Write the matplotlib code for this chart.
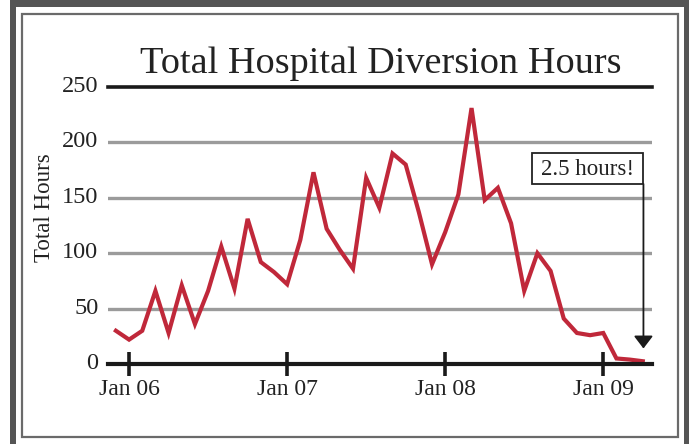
import numpy as np
import matplotlib
matplotlib.use("Agg")
import matplotlib.pyplot as plt
import matplotlib.transforms as mtransforms
from matplotlib.patches import Rectangle

plt.rcParams["font.family"] = ["Liberation Serif", "DejaVu Serif"]

# monthly totals, Dec 2005 .. Apr 2009
hours = [30, 22, 30, 66, 28, 71, 36, 66, 106, 68, 131, 92, 83,
         72, 112, 173, 122, 103, 86, 168, 141, 190, 180, 137, 90,
         119, 153, 231, 148, 159, 127, 66, 100, 84, 41, 28, 26,
         28, 5, 4, 2.5]
months = np.arange(-1, len(hours) - 1)   # 0 = Jan 2006
year_ticks = [0, 12, 24, 36]
year_labels = ["Jan 06", "Jan 07", "Jan 08", "Jan 09"]
y_ticks = [0, 50, 100, 150, 200, 250]

W, H = 694, 444
fig = plt.figure(figsize=(W / 100, H / 100), dpi=100)


def px_rect(x0, y0, x1, y1, **kw):
    # pixel coords, origin top-left
    fig.add_artist(Rectangle((x0 / W, 1 - y1 / H), (x1 - x0) / W, (y1 - y0) / H,
                             transform=fig.transFigure, **kw))


# frame
dark = "#555555"
px_rect(10, 0, 16, H, facecolor=dark, edgecolor="none")
px_rect(10, 0, 689, 7, facecolor=dark, edgecolor="none")
px_rect(684, 0, 689, H, facecolor=dark, edgecolor="none")
px_rect(22, 14, 678, 437, facecolor="none", edgecolor="#6a6a6a", linewidth=1.6)

ax = fig.add_axes([108 / W, (H - 364) / H, 544 / W, 277 / H])
ax.set_xlim(-1.6, 39.7)
ax.set_ylim(0, 250)
for s in ax.spines.values():
    s.set_visible(False)

for v in [50, 100, 150, 200]:
    ax.axhline(v, color="#9b9b9b", lw=2.4, zorder=1)
ax.axhline(250, color="#1a1a1a", lw=2.6, zorder=1, clip_on=False)
ax.axhline(0, color="#1a1a1a", lw=3.0, zorder=3, clip_on=False)

ax.plot(months, hours, color="#c0283a", lw=3.0, zorder=2,
        solid_joinstyle="miter", clip_on=False)

ax.set_xticks(year_ticks)
ax.set_xticklabels(year_labels)
ax.set_yticks(y_ticks)
ax.set_yticklabels([str(v) for v in y_ticks])
ax.tick_params(axis="x", direction="inout", length=17, width=2.6,
               color="#1a1a1a", labelsize=17, labelcolor="#222222", pad=2)
ax.tick_params(axis="y", length=0, labelsize=17.5, labelcolor="#222222", pad=7)
lift = mtransforms.ScaledTranslation(0, 3 / 100, fig.dpi_scale_trans)
for lbl in ax.get_yticklabels():
    lbl.set_verticalalignment("center_baseline")
    lbl.set_transform(lbl.get_transform() + lift)

# callout box and arrow to the last month
ax.add_patch(Rectangle((30.6, 162.5), 39.05 - 30.6, 190.4 - 162.5,
                       facecolor="white", edgecolor="#222222", lw=1.3, zorder=4))
ax.text(34.82, 175.5, "2.5 hours!", ha="center", va="center", fontsize=16.5,
        color="#222222", zorder=5)
ax.annotate("", xy=(39.05, 14), xytext=(39.05, 162.5),
            arrowprops=dict(arrowstyle="-|>,head_width=0.29,head_length=0.38",
                            color="#1a1a1a", lw=1.3, mutation_scale=20,
                            shrinkA=0, shrinkB=0))

fig.text(381 / W, (H - 73) / H, "Total Hospital Diversion Hours",
         ha="center", va="baseline", fontsize=27.5, color="#222222")
fig.text(45 / W, (H - 208) / H, "Total Hours", rotation=90,
         ha="center", va="center", fontsize=16.5, color="#222222")

fig.savefig("out.png", dpi=100)
